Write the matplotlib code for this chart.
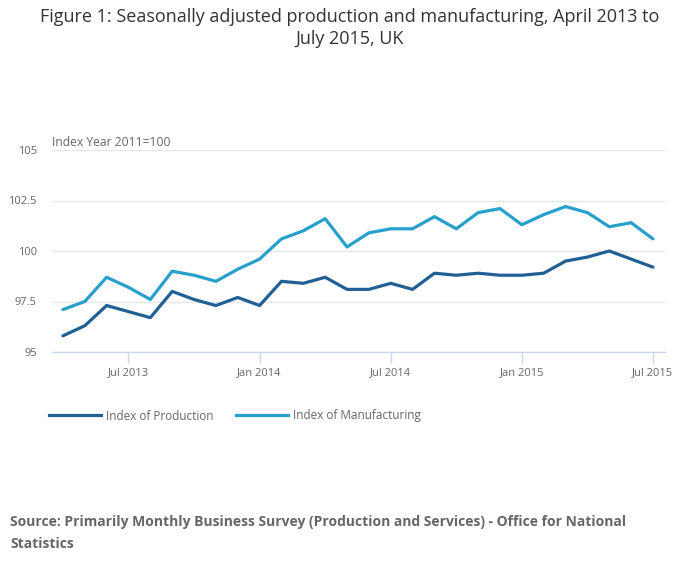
import numpy as np
import matplotlib.pyplot as plt
from matplotlib.lines import Line2D

plt.rcParams['font.family'] = ['Open Sans', 'DejaVu Sans']

months = ['Apr 2013', 'May 2013', 'Jun 2013', 'Jul 2013', 'Aug 2013', 'Sep 2013', 'Oct 2013',
          'Nov 2013', 'Dec 2013', 'Jan 2014', 'Feb 2014', 'Mar 2014', 'Apr 2014', 'May 2014',
          'Jun 2014', 'Jul 2014', 'Aug 2014', 'Sep 2014', 'Oct 2014', 'Nov 2014', 'Dec 2014',
          'Jan 2015', 'Feb 2015', 'Mar 2015', 'Apr 2015', 'May 2015', 'Jun 2015', 'Jul 2015']
production = [95.8, 96.3, 97.3, 97.0, 96.7, 98.0, 97.6, 97.3, 97.7, 97.3, 98.5, 98.4, 98.7, 98.1,
              98.1, 98.4, 98.1, 98.9, 98.8, 98.9, 98.8, 98.8, 98.9, 99.5, 99.7, 100.0, 99.6, 99.2]
manufacturing = [97.1, 97.5, 98.7, 98.2, 97.6, 99.0, 98.8, 98.5, 99.1, 99.6, 100.6, 101.0, 101.6, 100.2,
                 100.9, 101.1, 101.1, 101.7, 101.1, 101.9, 102.1, 101.3, 101.8, 102.2, 101.9, 101.2, 101.4, 100.6]
tick_labels = ['Jul 2013', 'Jan 2014', 'Jul 2014', 'Jan 2015', 'Jul 2015']
y_ticks = [95, 97.5, 100, 102.5, 105]
y_labels = ['95', '97.5', '100', '102.5', '105']

c_prod = '#206095'
c_manu = '#27a0cc'

fig = plt.figure(figsize=(7, 5.74), dpi=100)
ax = fig.add_axes([52/700, 1-352/574, (665-52)/700, (352-150)/574])

x = np.arange(len(months))
ax.plot(x, production, color=c_prod, lw=2.3, solid_capstyle='round', solid_joinstyle='round')
ax.plot(x, manufacturing, color=c_manu, lw=2.3, solid_capstyle='round', solid_joinstyle='round')

ax.set_xlim(-0.5, 27.55)
ax.set_ylim(95, 105)
ax.set_yticks(y_ticks)
ax.set_yticklabels(y_labels)
ax.set_xticks([months.index(t) for t in tick_labels])
ax.set_xticklabels(tick_labels)

ax.grid(axis='y', color='#e6e6e6', lw=1)
ax.set_axisbelow(True)
for s in ['top', 'right', 'left']:
    ax.spines[s].set_visible(False)
ax.spines['bottom'].set_color('#ccd6eb')
ax.spines['bottom'].set_linewidth(1)
ax.tick_params(axis='y', length=0, pad=11, labelsize=8, labelcolor='#666666')
ax.tick_params(axis='x', length=8, width=1, color='#ccd6eb', pad=3, labelsize=8, labelcolor='#666666')

fig.text(52/700, 1-142/574, 'Index Year 2011=100', fontsize=8.7, color='#666666', va='center', ha='left')

fig.text(0.5, 1-17/574, 'Figure 1: Seasonally adjusted production and manufacturing, April 2013 to',
         fontsize=13, color='#333333', ha='center', va='center')
fig.text(0.5, 1-39/574, 'July 2015, UK', fontsize=13, color='#333333', ha='center', va='center')

handles = [Line2D([], [], color=c_prod, lw=2.3), Line2D([], [], color=c_manu, lw=2.3)]
fig.legend(handles, ['Index of Production', 'Index of Manufacturing'], loc='center left',
           bbox_to_anchor=(38/700, 1-416/574), ncol=2, frameon=False, fontsize=8.5,
           handlelength=4.4, handletextpad=0.45, columnspacing=1.9, labelcolor='#666666')

fig.text(10/700, 1-522/574, 'Source: Primarily Monthly Business Survey (Production and Services) - Office for National',
         fontsize=10, fontweight='bold', color='#666666', ha='left', va='center')
fig.text(10/700, 1-544/574, 'Statistics', fontsize=10, fontweight='bold', color='#666666', ha='left', va='center')

fig.savefig('out.png', dpi=100)
